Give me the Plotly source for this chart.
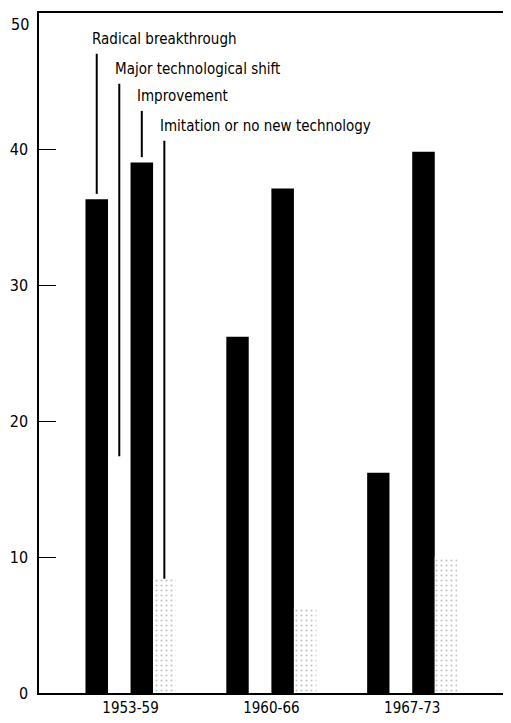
import plotly.graph_objects as go

periods = ["1953-59", "1960-66", "1967-73"]
series_names = ["Radical breakthrough", "Major technological shift",
                "Improvement", "Imitation or no new technology"]
radical = [36.3, 26.2, 16.2]
major = [17.4, 29.5, 32.1]
improvement = [39.0, 37.1, 39.8]
imitation = [8.4, 6.3, 10.0]
y_ticks = [0, 10, 20, 30, 40]
y_top = 50

values = [radical, major, improvement, imitation]
FONT = "Liberation Sans Narrow, DejaVu Sans Condensed, Arial Narrow, sans-serif"

fig = go.Figure()
fills = ["black", "white", "black", "white"]
for i, (name, vals) in enumerate(zip(series_names, values)):
    marker = dict(color=fills[i], line=dict(width=0))
    if i == 3:
        marker = dict(color="white", line=dict(width=0),
                      pattern=dict(shape=".", fgcolor="#888888", bgcolor="white",
                                   size=5, solidity=0.15))
    fig.add_trace(go.Bar(x=list(range(len(periods))), y=vals, name=name,
                         marker=marker, showlegend=False))

bargap = 0.36
n = len(series_names)
w = (1 - bargap) / n
label_y = [48.1, 45.9, 43.9, 41.7]
line_top = [47.0, 44.8, 42.8, 40.6]
for i, name in enumerate(series_names):
    xc = 0 + (-(n - 1) / 2 + i) * w
    fig.add_shape(type="line", xref="x", yref="y", x0=xc, x1=xc,
                  y0=values[i][0] + (0.4 if i % 2 == 0 else 0), y1=line_top[i],
                  line=dict(color="black", width=2))
    fig.add_annotation(x=xc - 0.045, y=label_y[i], xref="x", yref="y", text=name,
                       showarrow=False, xanchor="left", yanchor="middle",
                       font=dict(family=FONT, size=15, color="black"))

# top tick label (would be clipped at the page edge as a regular tick label)
fig.add_annotation(x=0, xref="paper", y=y_top, yref="y", text=str(y_top),
                   showarrow=False, xanchor="right", yanchor="middle",
                   xshift=-8, yshift=-11,
                   font=dict(family=FONT, size=16, color="black"))

# page body has an 8px margin, so the figure is sized/margined to compensate
fig.update_layout(
    width=503, height=715,
    margin=dict(l=31, r=1, t=5, b=30),
    plot_bgcolor="white", paper_bgcolor="white",
    bargap=bargap, bargroupgap=0, barmode="group",
    font=dict(family=FONT, size=15, color="black"),
)
fig.update_xaxes(range=[-0.65, 2.68], tickvals=list(range(len(periods))),
                 ticktext=periods, showgrid=False, zeroline=False,
                 showline=True, linecolor="black", linewidth=1.5, mirror=True,
                 ticks="", tickfont=dict(size=15))
fig.update_yaxes(range=[0, y_top], tickvals=y_ticks, showgrid=False, zeroline=False,
                 showline=True, linecolor="black", linewidth=1.5, mirror=True,
                 ticks="inside", ticklen=17, tickcolor="black", tickwidth=1,
                 tickfont=dict(size=16), ticklabelstandoff=6)

fig.write_html("out.html")
